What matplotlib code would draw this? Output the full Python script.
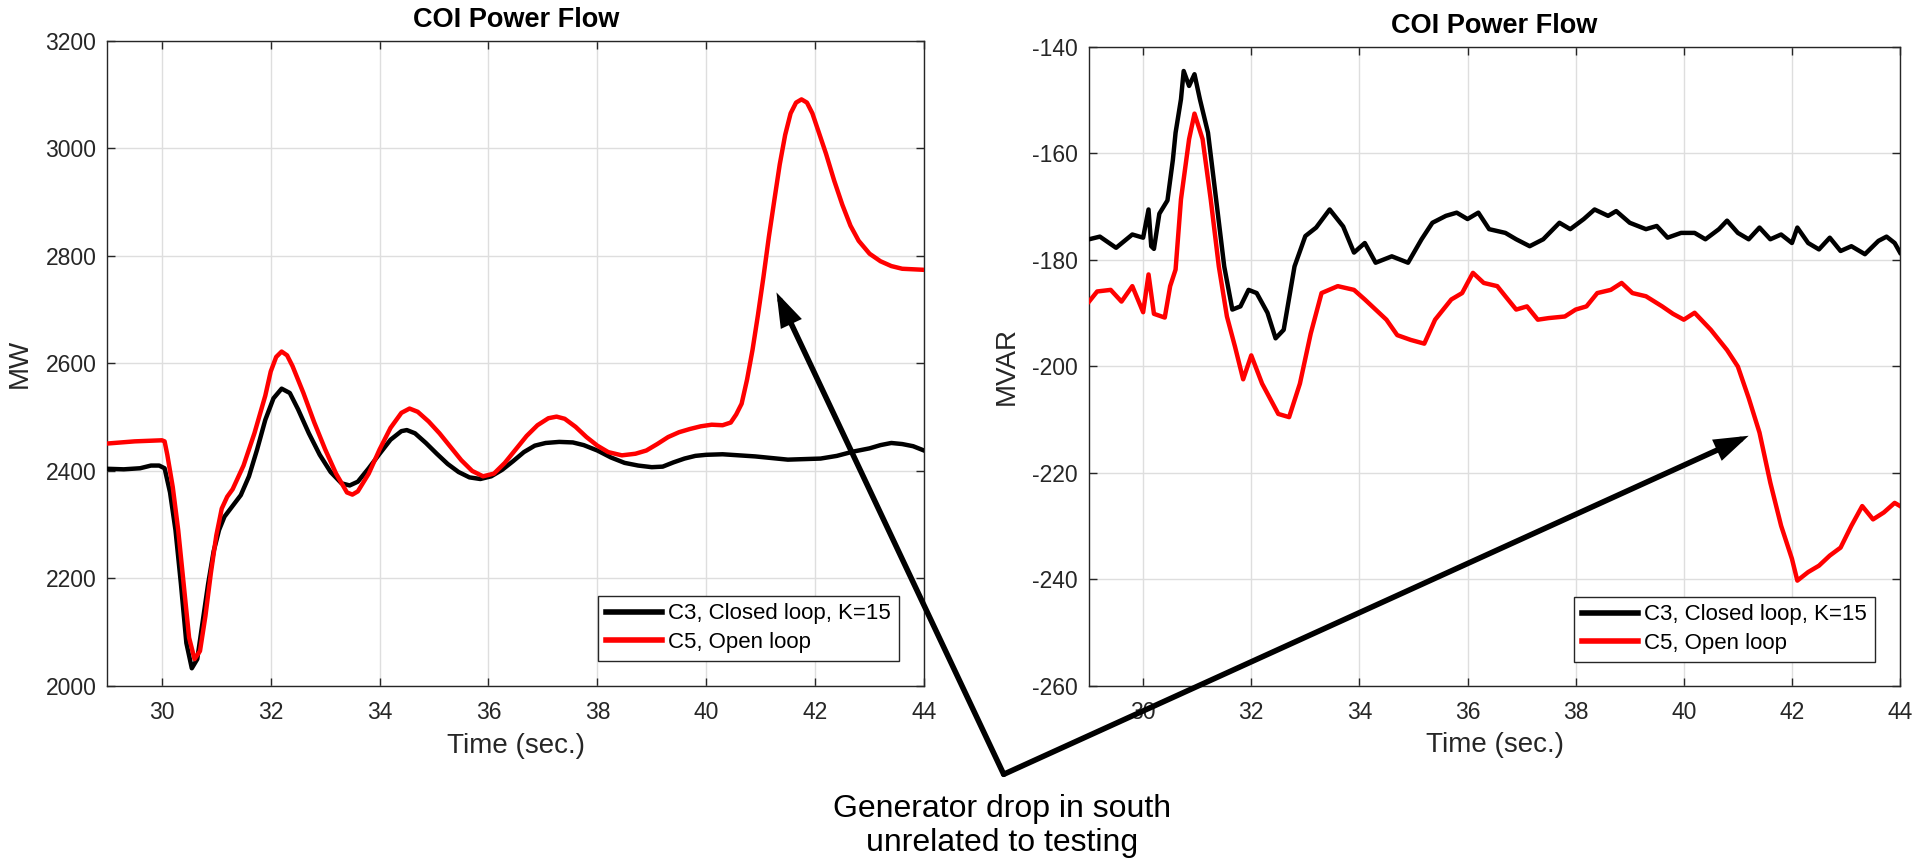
import matplotlib
matplotlib.use("Agg")
import matplotlib.pyplot as plt

plt.rcParams['font.family'] = ['Liberation Sans', 'DejaVu Sans']
plt.rcParams['axes.unicode_minus'] = False

# ---------------- data ----------------
title = "COI Power Flow"
xlabel = "Time (sec.)"
label_c3 = "C3, Closed loop, K=15"
label_c5 = "C5, Open loop"
note_text = "Generator drop in south\nunrelated to testing"

x_ticks = [30, 32, 34, 36, 38, 40, 42, 44]
mw_ticks = [2000, 2200, 2400, 2600, 2800, 3000, 3200]
mvar_ticks = [-260, -240, -220, -200, -180, -160, -140]

# Left panel: MW
mw_c3_t = [29.0, 29.3, 29.6, 29.8, 29.95, 30.05, 30.15, 30.25, 30.35, 30.45, 30.55,
           30.65, 30.75, 30.85, 30.95, 31.05, 31.15, 31.3, 31.45, 31.6, 31.75, 31.9,
           32.05, 32.2, 32.35, 32.5, 32.7, 32.9, 33.1, 33.3, 33.45, 33.6, 33.8, 34.0,
           34.2, 34.4, 34.5, 34.65, 34.85, 35.05, 35.25, 35.45, 35.65, 35.85, 36.05,
           36.25, 36.45, 36.65, 36.85, 37.05, 37.3, 37.55, 37.75, 38.0, 38.25, 38.5,
           38.75, 39.0, 39.2, 39.4, 39.6, 39.8, 40.0, 40.3, 40.6, 40.9, 41.2, 41.5,
           41.8, 42.1, 42.4, 42.7, 43.0, 43.2, 43.4, 43.6, 43.8, 44.0]
mw_c3_v = [2404, 2403, 2405, 2410, 2410, 2405, 2360, 2290, 2190, 2080, 2033,
           2050, 2120, 2190, 2250, 2290, 2315, 2335, 2355, 2390, 2440, 2495,
           2535, 2553, 2545, 2515, 2470, 2430, 2398, 2377, 2373, 2380, 2405, 2432,
           2458, 2474, 2476, 2470, 2452, 2432, 2413, 2398, 2388, 2385, 2390,
           2402, 2418, 2435, 2447, 2452, 2454, 2453, 2448, 2438, 2425, 2415,
           2410, 2407, 2408, 2416, 2423, 2428, 2430, 2431, 2429, 2427, 2424, 2421,
           2422, 2423, 2428, 2436, 2442, 2448, 2452, 2450, 2446, 2438]

mw_c5_t = [29.0, 29.5, 30.0, 30.05, 30.1, 30.2, 30.3, 30.4, 30.5, 30.6, 30.7, 30.8,
           30.9, 31.0, 31.1, 31.2, 31.3, 31.5, 31.7, 31.9, 32.0, 32.1, 32.2, 32.3,
           32.4, 32.6, 32.8, 33.0, 33.2, 33.4, 33.5, 33.6, 33.8, 34.0, 34.2, 34.4,
           34.55, 34.7, 34.9, 35.1, 35.3, 35.5, 35.7, 35.9, 36.1, 36.3, 36.5, 36.7,
           36.9, 37.1, 37.25, 37.4, 37.6, 37.8, 38.0, 38.2, 38.45, 38.7, 38.9, 39.1,
           39.3, 39.5, 39.7, 39.9, 40.1, 40.3, 40.45, 40.55, 40.65, 40.75, 40.85,
           40.95, 41.05, 41.15, 41.25, 41.35, 41.45, 41.55, 41.65, 41.75, 41.85,
           41.95, 42.05, 42.2, 42.35, 42.5, 42.65, 42.8, 43.0, 43.2, 43.4, 43.6,
           43.8, 44.0]
mw_c5_v = [2451, 2455, 2457, 2455, 2430, 2370, 2290, 2190, 2090, 2050, 2065, 2130,
           2210, 2280, 2330, 2352, 2366, 2410, 2470, 2540, 2585, 2612, 2622, 2615,
           2595, 2545, 2490, 2440, 2395, 2360, 2356, 2362, 2395, 2440, 2480, 2508,
           2516, 2510, 2492, 2470, 2445, 2420, 2400, 2390, 2395, 2415, 2440, 2465,
           2485, 2498, 2501, 2497, 2482, 2463, 2447, 2435, 2429, 2432, 2438, 2450,
           2463, 2472, 2478, 2483, 2486, 2485, 2490, 2505, 2525, 2570, 2625,
           2690, 2760, 2835, 2903, 2970, 3025, 3065, 3085, 3091, 3085,
           3065, 3035, 2990, 2940, 2895, 2856, 2828, 2804, 2790, 2781, 2776,
           2775, 2774]

# Right panel: MVAR
mvar_c3_t = [29.0, 29.2, 29.5, 29.8, 30.0, 30.1, 30.15, 30.2, 30.3, 30.45, 30.55,
             30.6, 30.7, 30.75, 30.85, 30.95, 31.05, 31.2, 31.35, 31.5, 31.65, 31.8,
             31.95, 32.1, 32.3, 32.45, 32.6, 32.8, 33.0, 33.2, 33.45, 33.7, 33.9,
             34.1, 34.3, 34.6, 34.9, 35.15, 35.35, 35.6, 35.8, 36.0, 36.2, 36.4,
             36.7, 36.9, 37.15, 37.4, 37.7, 37.9, 38.15, 38.35, 38.6, 38.75, 39.0,
             39.3, 39.5, 39.7, 39.95, 40.2, 40.4, 40.65, 40.8, 41.0, 41.2, 41.4,
             41.6, 41.8, 42.0, 42.1, 42.3, 42.5, 42.7, 42.9, 43.1, 43.35, 43.6,
             43.75, 43.9, 44.0]
mvar_c3_v = [-176.2, -175.7, -177.8, -175.3, -175.9, -170.6, -177.5, -178.0, -171.4,
             -168.9, -161.3, -156.2, -149.9, -144.6, -147.4, -145.2, -149.9, -156.2,
             -168.7, -181.3, -189.4, -188.8, -185.7, -186.3, -190.0, -194.8, -193.2,
             -181.3, -175.6, -174.0, -170.6, -173.8, -178.7, -176.9, -180.6, -179.4,
             -180.6, -176.2, -173.1, -171.8, -171.2, -172.4, -171.2, -174.3, -175.0,
             -176.2, -177.5, -176.2, -173.1, -174.3, -172.4, -170.6, -171.8, -170.9,
             -173.1, -174.3, -173.7, -175.9, -175.0, -175.0, -176.2, -174.3, -172.7,
             -175.0, -176.2, -174.0, -176.2, -175.3, -176.9, -174.0, -176.9, -178.1,
             -175.9, -178.4, -177.5, -179.0, -176.5, -175.7, -176.9, -178.7]

mvar_c5_t = [29.0, 29.15, 29.4, 29.6, 29.8, 30.0, 30.1, 30.2, 30.4, 30.5, 30.6,
             30.7, 30.85, 30.95, 31.1, 31.25, 31.4, 31.55, 31.7, 31.85, 32.0, 32.2,
             32.5, 32.7, 32.9, 33.1, 33.3, 33.6, 33.9, 34.1, 34.3, 34.5, 34.7, 34.95,
             35.2, 35.4, 35.7, 35.9, 36.1, 36.3, 36.55, 36.7, 36.9, 37.1, 37.3, 37.5,
             37.8, 38.0, 38.2, 38.4, 38.65, 38.85, 39.05, 39.3, 39.6, 39.8, 40.0,
             40.2, 40.5, 40.8, 41.0, 41.2, 41.4, 41.6, 41.8, 42.0, 42.1, 42.3, 42.5,
             42.7, 42.9, 43.1, 43.3, 43.5, 43.7, 43.9, 44.0]
mvar_c5_v = [-187.9, -186.0, -185.7, -187.9, -185.0, -189.9, -182.8, -190.2, -190.9,
             -185.0, -181.9, -168.7, -157.4, -152.6, -157.4, -168.7, -181.3, -190.7,
             -196.4, -202.5, -198.0, -203.3, -209.0, -209.6, -203.3, -193.9, -186.3,
             -185.0, -185.7, -187.5, -189.4, -191.3, -194.2, -195.1, -195.8, -191.3,
             -187.5, -186.3, -182.5, -184.4, -185.0, -186.9, -189.4, -188.8, -191.3,
             -191.0, -190.7, -189.4, -188.8, -186.3, -185.7, -184.4, -186.3, -186.9,
             -188.8, -190.2, -191.3, -190.0, -193.2, -197.0, -200.1, -206.0, -212.5,
             -221.9, -230.0, -236.2, -240.3, -238.7, -237.5, -235.6, -234.1, -230.0,
             -226.3, -228.8, -227.5, -225.7, -226.3]

# arrow targets (data coords) and common tail point (figure pixels)
arrow_tip_mw = (41.29, 2732)
arrow_tip_mvar = (41.2, -213.1)
arrow_tail_px = (1003.7, 85.7)

# ---------------- figure ----------------
fig = plt.figure(figsize=(19.15, 8.6), dpi=100)
ax1 = fig.add_axes([0.0561, 0.2023, 0.4264, 0.7503])
ax2 = fig.add_axes([0.5687, 0.2029, 0.4235, 0.7430])

spine_c = '#262626'
grid_c = '#dedede'
tick_fs = 16.5
label_fs = 20


def style(ax, yticks, ylabel):
    ax.set_xlim(29, 44)
    ax.set_ylim(yticks[0], yticks[-1])
    ax.set_xticks(x_ticks)
    ax.set_yticks(yticks)
    ax.grid(True, color=grid_c, linewidth=1.0)
    ax.set_axisbelow(True)
    for s in ax.spines.values():
        s.set_color(spine_c)
        s.set_linewidth(1.0)
    ax.tick_params(axis='both', direction='in', length=6, width=1.0,
                   color=spine_c, labelcolor='#262626', labelsize=tick_fs,
                   top=True, right=True)
    ax.tick_params(axis='x', pad=11)
    ax.tick_params(axis='y', pad=8)
    ax.set_title(title, fontsize=19.5, fontweight='bold', pad=10, color='black')
    ax.set_xlabel(xlabel, fontsize=label_fs, color='#262626', labelpad=6)
    ax.set_ylabel(ylabel, fontsize=label_fs, color='#262626', labelpad=9)


ax1.plot(mw_c3_t, mw_c3_v, color='black', lw=3.2, label=label_c3, zorder=3)
ax1.plot(mw_c5_t, mw_c5_v, color='#ff0000', lw=3.2, label=label_c5, zorder=3)
style(ax1, mw_ticks, "MW")

ax2.plot(mvar_c3_t, mvar_c3_v, color='black', lw=3.2, label=label_c3, zorder=3)
ax2.plot(mvar_c5_t, mvar_c5_v, color='#ff0000', lw=3.2, label=label_c5, zorder=3)
style(ax2, mvar_ticks, "MVAR")

for ax, anchor in ((ax1, (0.9694, 0.0387)), (ax2, (0.969, 0.0368))):
    leg = ax.legend(loc='lower right', bbox_to_anchor=anchor, borderaxespad=0,
                    fontsize=16, fancybox=False, framealpha=1,
                    handlelength=2.5, handletextpad=0.3, labelspacing=0.35,
                    borderpad=0.35)
    leg.get_frame().set_edgecolor(spine_c)
    leg.get_frame().set_linewidth(1.0)
    for h in leg.get_lines():
        h.set_linewidth(4)

arrowprops = dict(arrowstyle='-|>,head_length=0.6,head_width=0.2',
                  color='black', lw=4, mutation_scale=28,
                  shrinkA=0, shrinkB=0, capstyle='round', joinstyle='miter')
for ax, tip in ((ax1, arrow_tip_mw), (ax2, arrow_tip_mvar)):
    ax.annotate('', xy=tip, xycoords='data',
                xytext=arrow_tail_px, textcoords='figure pixels',
                arrowprops=arrowprops, annotation_clip=False, zorder=10)

fig.text(1002 / 1915, 34 / 860, note_text, ha='center', va='center',
         fontsize=23, linespacing=1.2, color='black')

fig.savefig("out.png", dpi=100)
